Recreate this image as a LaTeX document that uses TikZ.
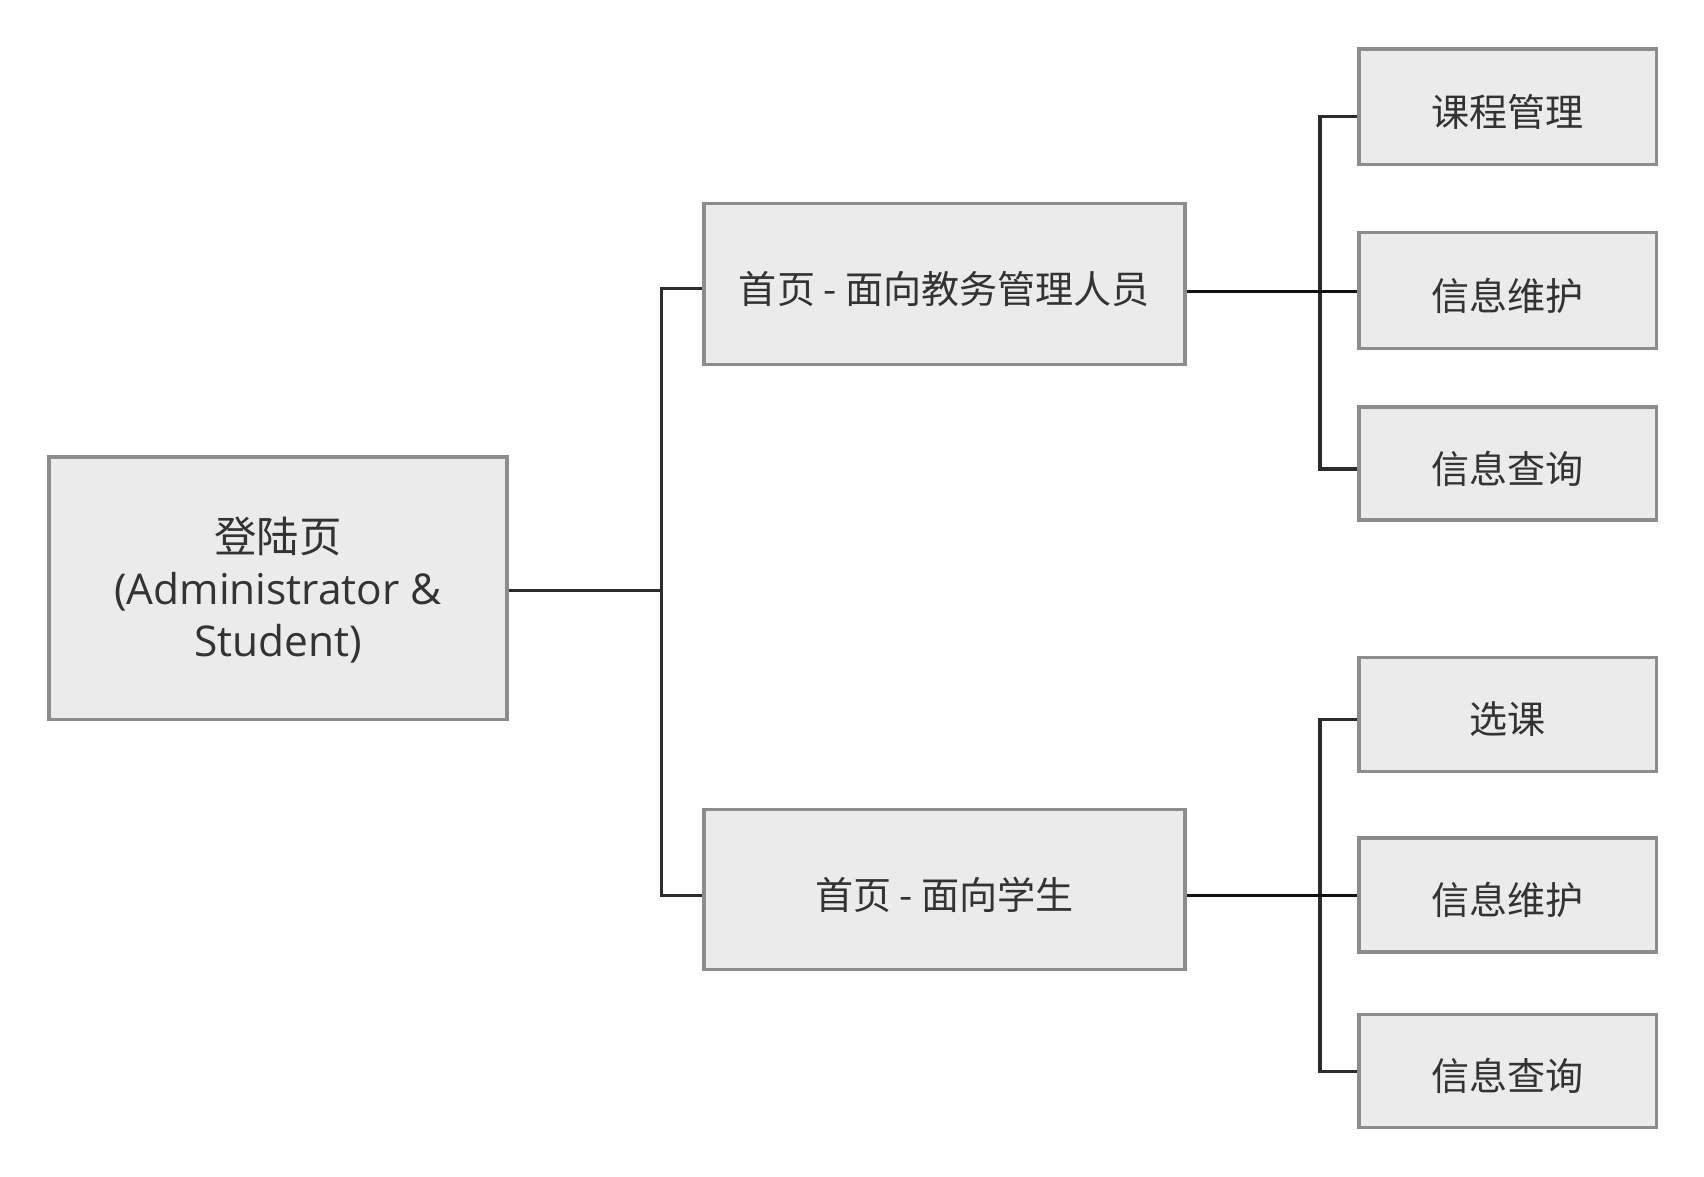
\documentclass[tikz,border=0pt]{standalone}
\usepackage{fontspec}
\setmainfont{Open Sans}
\newfontfamily\cjk{Noto Sans CJK SC}
\definecolor{boxfill}{HTML}{EBEBEB}
\definecolor{boxline}{HTML}{8C8C8C}
\definecolor{txt}{HTML}{333333}
\definecolor{conncol}{HTML}{2B2B2B}
\definecolor{conndark}{HTML}{111111}
\begin{document}
\begin{tikzpicture}[x=0.5pt,y=-0.5pt,
  box/.style={draw=boxline, fill=boxfill, line width=1.5pt, text=txt, inner sep=0pt,
    align=center, font=\fontsize{17.5}{23.5}\selectfont, text height=19pt, text depth=1pt},
  loginbox/.style={draw=boxline, fill=boxfill, line width=1.5pt, text=txt, inner sep=0pt,
    align=center, font=\fontsize{19.5}{24}\selectfont, text depth=1.5pt},
  conn/.style={draw=conncol, line width=1.5pt},
  conndk/.style={draw=conndark, line width=1.5pt}]
\useasboundingbox (0,0) rectangle (1566,1081);
% boxes
\node[loginbox, minimum width=210.5pt, minimum height=120.5pt] (login) at (255.5,540.5)
  {{\cjk 登陆页}\\(Administrator \&\\Student)};
\node[box, minimum width=221pt, minimum height=74pt] (m1) at (868,261) {\cjk 首页 - 面向教务管理人员};
\node[box, minimum width=221pt, minimum height=73.5pt] (m2) at (868,817.5) {\cjk 首页 - 面向学生};
\node[box, minimum width=136.5pt, minimum height=53pt] (r1) at (1385.5,98) {\cjk 课程管理};
\node[box, minimum width=136.5pt, minimum height=53pt] (r2) at (1385.5,267) {\cjk 信息维护};
\node[box, minimum width=136.5pt, minimum height=52pt] (r3) at (1385.5,426) {\cjk 信息查询};
\node[box, minimum width=136.5pt, minimum height=52.5pt] (r4) at (1385.5,656.5) {\cjk 选课};
\node[box, minimum width=136.5pt, minimum height=52.5pt] (r5) at (1385.5,822.5) {\cjk 信息维护};
\node[box, minimum width=136.5pt, minimum height=52pt] (r6) at (1385.5,984) {\cjk 信息查询};
% junction coordinates
\coordinate (jL) at (608,543);
\coordinate (a1) at (608,265);
\coordinate (a2) at (608,823);
\coordinate (b1) at (1213,107);
\coordinate (b3) at (1213,431);
\coordinate (c1) at (1213,268);
\coordinate (b4) at (1213,661);
\coordinate (b6) at (1213,985);
\coordinate (c2) at (1213,823);
% connectors
\draw[conn] (login.east |- jL) -- (jL);
\draw[conn] (m1.west |- a1) -| (a2) -- (m2.west |- a2);
\draw[conn] (r1.west |- b1) -| (b3) -- (r3.west |- b3);
\draw[conn] (r4.west |- b4) -| (b6) -- (r6.west |- b6);
\draw[conndk] (m1.east |- c1) -- (r2.west |- c1);
\draw[conndk] (m2.east |- c2) -- (r5.west |- c2);
\end{tikzpicture}
\end{document}
